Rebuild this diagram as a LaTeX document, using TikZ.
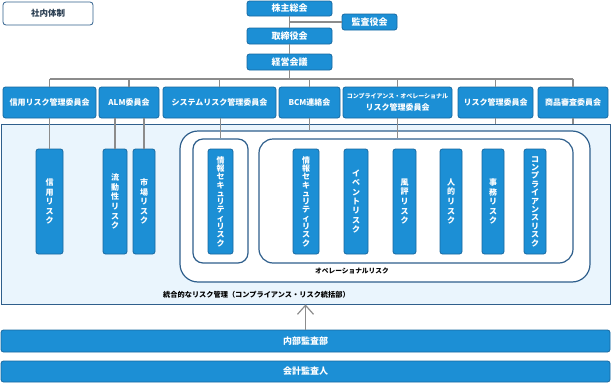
\documentclass[tikz,border=0pt]{standalone}
\usepackage{fontspec}
\setmainfont{Noto Sans CJK JP}
\usepackage{xcolor}
\definecolor{azulCaja}{RGB}{28,143,213}
\definecolor{bordeCaja}{RGB}{24,104,160}
\definecolor{azulMarco}{RGB}{47,95,140}
\definecolor{fondoRM}{RGB}{234,245,253}
\definecolor{grisLinea}{RGB}{140,140,140}
\definecolor{textoMarco}{RGB}{40,60,80}
\usetikzlibrary{arrows.meta, positioning}

\begin{document}
\begin{tikzpicture}[x=1pt, y=-1pt,
  caja/.style={draw=bordeCaja, fill=azulCaja, line width=0.8pt, rounded corners=2.5pt,
    text=white, inner sep=0pt, font=\fontsize{8}{10}\selectfont\bfseries},
  marco/.style={draw=azulMarco, line width=1.2pt, fill=white, inner sep=0pt},
  conn/.style={draw=grisLinea, line width=1.5pt}]
  \useasboundingbox (0,0) rectangle (611,383);

  % Cabecera
  \node[draw=azulMarco, line width=0.8pt, rounded corners=3pt, minimum width=90pt, minimum height=23pt,
    text=textoMarco, font=\fontsize{8.5}{10}\selectfont\bfseries] (shanai) at (48,13.5) {社内体制};

  % Organos de gobierno
  \node[caja, minimum width=85pt, minimum height=15pt, font=\fontsize{9}{10}\selectfont\bfseries] (kabu) at (289.5,8.5) {株主総会};
  \node[caja, minimum width=55pt, minimum height=16pt, font=\fontsize{9}{10}\selectfont\bfseries] (kansa) at (369.5,22) {監査役会};
  \node[caja, minimum width=85pt, minimum height=16pt, font=\fontsize{9}{10}\selectfont\bfseries] (tori) at (289.5,36) {取締役会};
  \node[caja, minimum width=85pt, minimum height=16pt, font=\fontsize{9}{10}\selectfont\bfseries] (keiei) at (289.5,62) {経営会議};

  % Comites
  \foreach \n/\x/\w/\lbl in {c1/49.5/93/信用リスク管理委員会, c2/129/60/ALM委員会,
      c3/219.5/113/システムリスク管理委員会, c4/309.5/61/BCM連絡会,
      c6/495.5/75/リスク管理委員会, c7/573/70/商品審査委員会} {
    \node[caja, minimum width=\w pt, minimum height=31pt] (\n) at (\x,102.5) {\lbl};
  }
  \node[caja, minimum width=109pt, minimum height=31pt, align=center, font=\fontsize{8}{12}\selectfont\bfseries]
    (c5) at (397.5,102.5) {{\fontsize{6}{7}\selectfont コンプライアンス・オペレーショナル}\\リスク管理委員会};

  % Marcos
  \node[draw=azulMarco, line width=0.8pt, fill=fondoRM, minimum width=609pt, minimum height=180pt] (togo) at (305.5,214) {};
  \node[marco, rounded corners=18pt, minimum width=410pt, minimum height=151pt] (opout) at (385,206.5) {};
  \node[marco, rounded corners=10pt, minimum width=55pt, minimum height=124pt] (opjoho) at (220.5,201) {};
  \node[marco, rounded corners=14pt, minimum width=314pt, minimum height=124pt] (opmain) at (416,201) {};

  % Riesgos (texto vertical)
  \foreach \n/\x/\w/\sk/\txt in {r1/49.5/27/9.6/{信\\用\\リ\\ス\\ク},
      r2/115/24/9.6/{流\\動\\性\\リ\\ス\\ク},
      r3/144/22/9.6/{市\\場\\リ\\ス\\ク},
      r4/220.5/25/8.3/{情\\報\\セ\\キ\\ュ\\リ\\テ\\ィ\\リ\\ス\\ク},
      r5/306/26/8.3/{情\\報\\セ\\キ\\ュ\\リ\\テ\\ィ\\リ\\ス\\ク},
      r6/356/24/9.3/{イ\\ベ\\ン\\ト\\リ\\ス\\ク},
      r7/404.5/23/9.6/{風\\評\\リ\\ス\\ク},
      r8/451/22/9.6/{人\\的\\リ\\ス\\ク},
      r9/493/22/9.6/{事\\務\\リ\\ス\\ク},
      r10/535/22/8.4/{コ\\ン\\プ\\ラ\\イ\\ア\\ン\\ス\\リ\\ス\\ク}} {
    \node[caja, minimum width=\w pt, minimum height=105pt, align=center,
      font=\fontsize{8}{\sk}\selectfont\bfseries] (\n) at (\x,201.5) {\txt};
  }

  % Etiquetas de marcos
  \node[font=\fontsize{6.7}{8}\selectfont\bfseries] (oplbl) at (352,271) {オペレーショナルリスク};
  \node[anchor=west, inner sep=0pt, font=\fontsize{7.2}{9}\selectfont\bfseries] (togolbl) at (163,295) {統合的なリスク管理（コンプライアンス・リスク統括部）};

  % Auditoria
  \node[caja, minimum width=609pt, minimum height=22pt, font=\fontsize{9}{10}\selectfont\bfseries] (naibu) at (305.5,341) {内部監査部};
  \node[caja, minimum width=609pt, minimum height=21pt, font=\fontsize{9}{10}\selectfont\bfseries] (kaikei) at (305.5,371.5) {会計監査人};

  % Conectores
  \coordinate (busI) at (49.5,79);
  \coordinate (busD) at (573,79);
  \draw[conn] (kabu) -- (tori);
  \draw[conn] (kabu.south |- kansa) -- (kansa.west);
  \draw[conn] (tori) -- (keiei);
  \draw[conn] (keiei.south) -- (keiei.south |- busI);
  \draw[conn] (busI) -- (busD);
  \foreach \c in {c1,c2,c3,c4,c5,c6,c7}
    \draw[conn] (\c.north) -- (\c.north |- busI);
  \draw[conn] (c1.south) -- (r1.north);
  \draw[conn] (r2.north) -- (r2.north |- c2.south);
  \draw[conn] (r3.north) -- (r3.north |- c2.south);
  \draw[conn] (opjoho.north) -- (opjoho.north |- c3.south);
  \draw[conn] (c4.south) -- (c4.south |- opout.north);
  \draw[conn] (c5.south) -- (c5.south |- opmain.north);
  \draw[conn] (c6.south) -- (c6.south |- togo.north);
  \draw[conn] (c7.south) -- (c7.south |- togo.north);
  \draw[conn, line width=1.2pt, -{Straight Barb[length=9pt, width=16pt]}] (naibu.north) -- (naibu.north |- togo.south);
\end{tikzpicture}
\end{document}
